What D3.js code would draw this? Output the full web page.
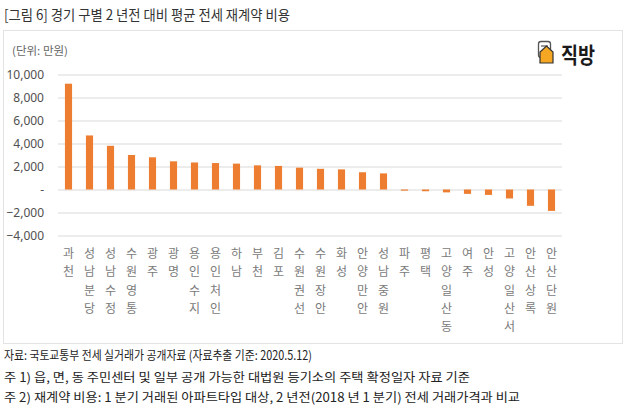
<!DOCTYPE html>
<html><head><meta charset="utf-8">
<script src="https://cdn.jsdelivr.net/npm/d3@7"></script>
<style>body{margin:0;background:#fff;}svg{display:block;font-family:"Noto Sans CJK KR","Noto Sans",sans-serif;}</style>
</head><body>
<svg id="c" width="630" height="409"></svg>
<script>
const categories = ["과천","성남분당","성남수정","수원영통","광주","광명","용인수지","용인처인","하남","부천","김포","수원권선","수원장안","화성","안양만안","성남중원","파주","평택","고양일산동","여주","안성","고양일산서","안산상록","안산단원"];
const values = [9200,4700,3800,3000,2800,2450,2350,2300,2250,2100,2050,1900,1800,1750,1500,1400,-100,-150,-250,-380,-470,-780,-1420,-1860];
const yTicks = [-4000,-2000,0,2000,4000,6000,8000,10000];
const title = "[그림 6] 경기 구별 2 년전 대비 평균 전세 재계약 비용";
const unitLabel = "(단위: 만원)";
const footnotes = ["자료: 국토교통부 전세 실거래가 공개자료 (자료추출 기준: 2020.5.12)",
  "주 1) 읍, 면, 동 주민센터 및 일부 공개 가능한 대법원 등기소의 주택 확정일자 자료 기준",
  "주 2) 재계약 비용: 1 분기 거래된 아파트타입 대상, 2 년전(2018 년 1 분기) 전세 거래가격과 비교"];

const svg = d3.select("#c");
// title
svg.append("text").attr("x",4).attr("y",20).attr("font-size",14).attr("fill","#333")
  .attr("textLength",286).attr("lengthAdjust","spacingAndGlyphs").text(title);
// box
svg.append("rect").attr("x",3.5).attr("y",30.5).attr("width",619).attr("height",313)
  .attr("fill","none").attr("stroke","#e3e3e3");
svg.append("text").attr("x",12).attr("y",55).attr("font-size",11).attr("fill","#666")
  .attr("textLength",56).attr("lengthAdjust","spacingAndGlyphs").text(unitLabel);

const x = d3.scaleBand().domain(categories).range([58,562]).paddingInner(0.66).paddingOuter(0.33);
const y = d3.scaleLinear().domain([-4000,10000]).range([235.5,74.5]);

// grid
const gy = svg.append("g").attr("transform","translate(58,0)")
  .call(d3.axisLeft(y).tickValues(yTicks).tickSize(-504)
     .tickFormat(d => d===0 ? "-" : d3.format(",")(d)).tickPadding(14));
gy.select(".domain").remove();
gy.selectAll(".tick line").attr("stroke","#d9d9d9");
gy.selectAll(".tick text").attr("font-size",12).attr("fill","#505050")
  .attr("font-family","'Noto Sans','DejaVu Sans',sans-serif");

// bars
svg.append("g").selectAll("rect").data(values).join("rect")
  .attr("x",(d,i)=>x(categories[i]))
  .attr("width",x.bandwidth())
  .attr("y",d=>y(Math.max(0,d)))
  .attr("height",d=>Math.abs(y(d)-y(0)))
  .attr("fill","#ED7D31");

// category labels (vertical stacked chars)
const lg = svg.append("g");
categories.forEach(c=>{
  const cx = x(c)+x.bandwidth()/2;
  Array.from(c).forEach((ch,j)=>{
    lg.append("text").attr("x",cx).attr("y",258+j*18.3).attr("text-anchor","middle")
      .attr("font-size",12).attr("fill","#7a7a7a").text(ch);
  });
});

// logo
const logo = svg.append("g");
logo.append("rect").attr("x",538.5).attr("y",41.5).attr("width",12).attr("height",16).attr("rx",2.5)
  .attr("fill","#fff").attr("stroke","#555").attr("stroke-width",1.3);
logo.append("line").attr("x1",541).attr("x2",548).attr("y1",46).attr("y2",46).attr("stroke","#555").attr("stroke-width",1.2);
logo.append("path").attr("d","M540,57 L540,52 L546.5,46 L553,52 L553,63 L540,63 Z")
  .attr("fill","#F5A623").attr("stroke","#333").attr("stroke-width",1.2);
logo.append("text").attr("x",561).attr("y",63).attr("font-size",22).attr("font-weight","bold")
  .attr("fill","#1a1a1a").attr("textLength",34).attr("lengthAdjust","spacingAndGlyphs").text("직방");

// footnotes
const fw = [308,466,516];
const fy = [360,381.5,402];
footnotes.forEach((t,i)=>{
  svg.append("text").attr("x",4).attr("y",fy[i]).attr("font-size",12.5).attr("fill","#222")
    .attr("textLength",fw[i]).attr("lengthAdjust","spacingAndGlyphs").text(t);
});
</script>
</body></html>
